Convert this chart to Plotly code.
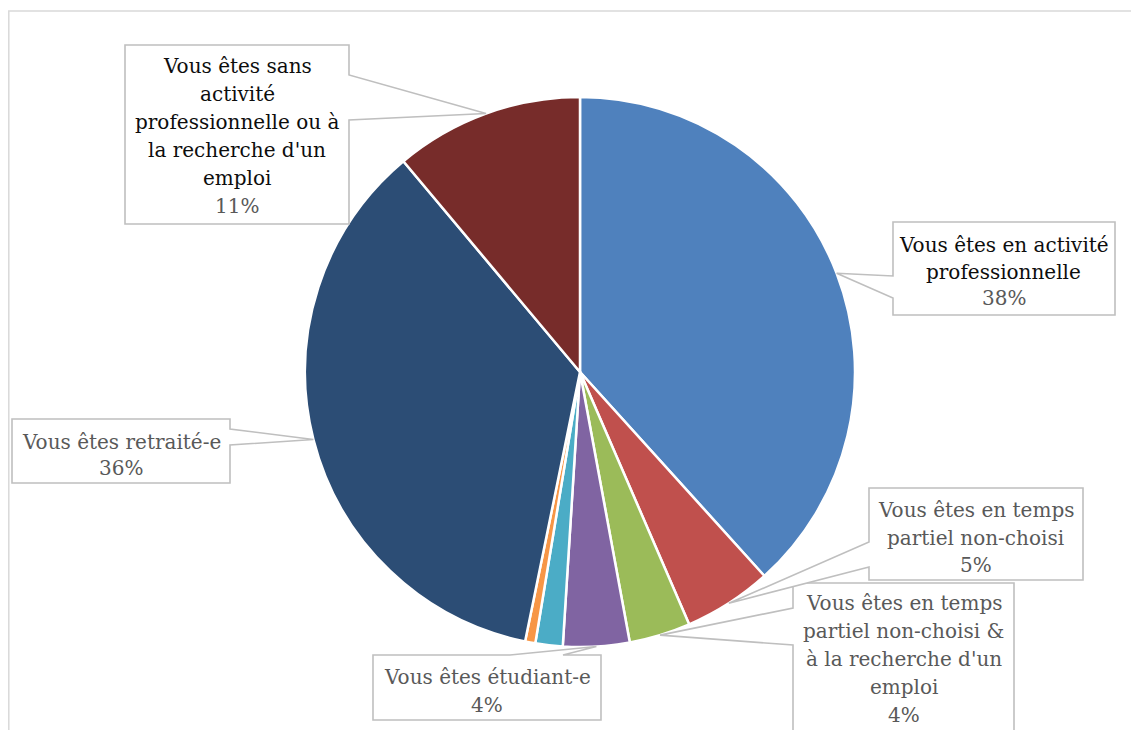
import math
import plotly.graph_objects as go

# ---------------- data ----------------
categories = [
    "Vous êtes en activité professionnelle",
    "Vous êtes en temps partiel non-choisi",
    "Vous êtes en temps partiel non-choisi & à la recherche d'un emploi",
    "Vous êtes étudiant-e",
    "Vous êtes en formation",
    "Autre",
    "Vous êtes retraité-e",
    "Vous êtes sans activité professionnelle ou à la recherche d'un emploi",
]
values = [38.3, 5.2, 3.6, 3.9, 1.6, 0.6, 35.7, 11.1]
colors = ["#4F81BD", "#C0504D", "#9BBB59", "#8064A2",
          "#4BACC6", "#F79646", "#2C4D75", "#772C2A"]

# wrapped label lines as shown in the chart (index -> lines)
label_lines = {
    0: ["Vous êtes en activité", "professionnelle"],
    1: ["Vous êtes en temps", "partiel non-choisi"],
    2: ["Vous êtes en temps", "partiel non-choisi &", "à la recherche d'un", "emploi"],
    3: ["Vous êtes étudiant-e"],
    6: ["Vous êtes retraité-e"],
    7: ["Vous êtes sans", "activité", "professionnelle ou à", "la recherche d'un", "emploi"],
}

# ---------------- layout constants (page pixels) ----------------
WIN_W, WIN_H = 1139, 730
OFF = 8                      # default body margin of the page
FW, FH = WIN_W - OFF, WIN_H - OFF
CX, CY, R = 580, 372, 275

# box: (x0, y0, x1, y1), wedge side, wedge base (two coords), first line y, spacing, name colour
boxes = {
    7: dict(rect=(125, 45, 349, 224), side="right", base=(75, 120), y0=66, dy=28, c="#0d0d0d"),
    0: dict(rect=(893, 222, 1115, 315), side="left", base=(276, 298), y0=245, dy=26.5, c="#0d0d0d"),
    6: dict(rect=(12, 419, 230, 483), side="right", base=(429, 445), y0=442, dy=26, c="#595959"),
    3: dict(rect=(373, 655, 601, 720), side="top", base=(510, 563), y0=677, dy=28, c="#595959"),
    2: dict(rect=(793, 583, 1014, 770), side="left", base=(608, 645), y0=603, dy=28, c="#595959"),
    1: dict(rect=(869, 488, 1083, 580), side="left", base=(542, 567), y0=510, dy=27.5, c="#595959"),
}
box_order = [7, 0, 6, 3, 2, 1]


def px(x):
    return (x - OFF) / FW


def py(y):
    return 1 - (y - OFF) / FH


fig = go.Figure()
fig.add_trace(go.Pie(
    labels=categories,
    values=values,
    sort=False,
    direction="clockwise",
    rotation=0,
    marker=dict(colors=colors, line=dict(color="white", width=2.5)),
    textinfo="none",
    hoverinfo="label+percent",
    showlegend=False,
    domain=dict(x=[px(CX - R), px(CX + R)], y=[py(CY + R), py(CY - R)]),
))

# tip positions from data (mid-angle of each slice, on the pie edge)
total = sum(values)
cum = 0
tips = []
for v in values:
    mid = (cum + v / 2) / total * 2 * math.pi
    tips.append((CX + R * math.sin(mid), CY - R * math.cos(mid)))
    cum += v

shapes = [dict(type="rect", xref="paper", yref="paper",
               x0=px(8.8), y0=py(11), x1=px(1160), y1=py(760),
               line=dict(color="#d9d9d9", width=1.5), fillcolor="rgba(0,0,0,0)", layer="below")]
annotations = []

for i in box_order:
    b = boxes[i]
    x0, y0, x1, y1 = b["rect"]
    tx, ty = tips[i]
    b1, b2 = b["base"]
    if b["side"] == "right":
        pts = [(x0, y0), (x1, y0), (x1, b1), (tx, ty), (x1, b2), (x1, y1), (x0, y1)]
    elif b["side"] == "left":
        pts = [(x0, y0), (x1, y0), (x1, y1), (x0, y1), (x0, b2), (tx, ty), (x0, b1)]
    else:
        pts = [(x0, y0), (b1, y0), (tx, ty), (b2, y0), (x1, y0), (x1, y1), (x0, y1)]
    path = "M " + " L ".join(f"{px(x):.5f},{py(y):.5f}" for x, y in pts) + " Z"
    shapes.append(dict(type="path", xref="paper", yref="paper", path=path,
                       fillcolor="white", line=dict(color="#bfbfbf", width=1.6), layer="above"))
    lines = label_lines[i] + [f"{values[i]:.0f}%"]
    xc = (x0 + x1) / 2
    for k, t in enumerate(lines):
        col = b["c"] if k < len(lines) - 1 else "#595959"
        annotations.append(dict(
            x=px(xc), y=py(b["y0"] + k * b["dy"]), xref="paper", yref="paper",
            text=t, showarrow=False, xanchor="center", yanchor="middle",
            font=dict(family="DejaVu Serif", size=20, color=col)))

fig.update_layout(
    width=FW, height=FH,
    margin=dict(l=0, r=0, t=0, b=0),
    paper_bgcolor="white",
    plot_bgcolor="white",
    shapes=shapes,
    annotations=annotations,
)

fig.write_html("out.html")
